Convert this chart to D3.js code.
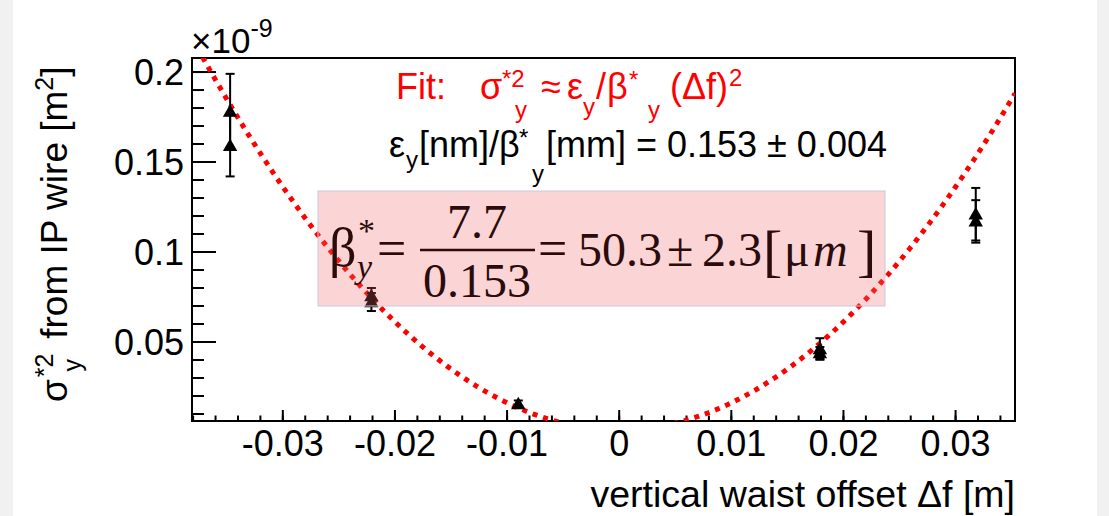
<!DOCTYPE html>
<html>
<head>
<meta charset="utf-8">
<script src="https://cdnjs.cloudflare.com/ajax/libs/d3/7.8.5/d3.min.js"></script>
<style>
  body { margin: 0; background: #f1f1f1; }
  svg { display: block; }
  text { font-family: "Liberation Sans", Arial, Helvetica, sans-serif; }
  text.serif { font-family: "Liberation Serif", "DejaVu Serif", serif; }
</style>
</head>
<body>
<div id="chart"></div>
<script>
// waist scan: offset [m] vs sigma*^2 [1e-9 m^2]
var offsets   = [-0.0347, -0.0347, -0.0221, -0.0221, -0.0090, 0.0179, 0.0179, 0.0318, 0.0318];
var sigma2    = [0.178, 0.159, 0.0755, 0.0722, 0.0155, 0.0461, 0.0439, 0.121, 0.117];
var sigma2Err = [0.021, 0.017, 0.0045, 0.0050, 0.0020, 0.0060, 0.0033, 0.0146, 0.0118];

var xTicks = [-0.03, -0.02, -0.01, 0, 0.01, 0.02, 0.03];
var xTickLabels = ["-0.03", "-0.02", "-0.01", "0", "0.01", "0.02", "0.03"];
var yTicks = [0.05, 0.1, 0.15, 0.2];
var yTickLabels = ["0.05", "0.1", "0.15", "0.2"];

// fit  sigma^2 = k * (df - f0)^2 + c   (k in 1e-9 m^2 / m^2)
var fitK = 150, fitF0 = 0, fitC = 0.0012;

var W = 1109, H = 516;
var frame = {left: 192, right: 1015, top: 58, bottom: 421};

var svg = d3.select("#chart").append("svg")
    .attr("width", W)
    .attr("height", H);

svg.append("rect").attr("x", 13).attr("y", 0).attr("width", 1084).attr("height", H).attr("fill", "#fff");

var x = d3.scaleLinear().domain([-0.0381, 0.0353]).range([frame.left, frame.right]);
var y = d3.scaleLinear().domain([0.0061, 0.2078]).range([frame.bottom, frame.top]);

svg.append("clipPath").attr("id", "plotclip")
  .append("rect")
    .attr("x", frame.left).attr("y", frame.top)
    .attr("width", frame.right - frame.left).attr("height", frame.bottom - frame.top);

// frame
svg.append("rect")
    .attr("x", frame.left).attr("y", frame.top)
    .attr("width", frame.right - frame.left).attr("height", frame.bottom - frame.top)
    .attr("fill", "none").attr("stroke", "#000").attr("stroke-width", 2);

// x ticks (ROOT style, inside, bottom only)
var xMinor = d3.range(-0.038, 0.0352, 0.002);
svg.selectAll("line.xminor").data(xMinor).enter().append("line")
    .attr("class", "xminor")
    .attr("x1", function(d) { return x(d); }).attr("x2", function(d) { return x(d); })
    .attr("y1", frame.bottom).attr("y2", frame.bottom - 5.5)
    .attr("stroke", "#000").attr("stroke-width", 2);
svg.selectAll("line.xmajor").data(xTicks).enter().append("line")
    .attr("class", "xmajor")
    .attr("x1", function(d) { return x(d); }).attr("x2", function(d) { return x(d); })
    .attr("y1", frame.bottom).attr("y2", frame.bottom - 11)
    .attr("stroke", "#000").attr("stroke-width", 2);
svg.selectAll("text.xlab").data(xTicks).enter().append("text")
    .attr("class", "xlab")
    .attr("x", function(d) { return x(d); })
    .attr("y", 456)
    .attr("text-anchor", "middle")
    .attr("font-size", 36)
    .text(function(d, i) { return xTickLabels[i]; });

// y ticks
var yMinor = d3.range(0.01, 0.2001, 0.01);
svg.selectAll("line.yminor").data(yMinor).enter().append("line")
    .attr("class", "yminor")
    .attr("x1", frame.left).attr("x2", frame.left + 12)
    .attr("y1", function(d) { return y(d); }).attr("y2", function(d) { return y(d); })
    .attr("stroke", "#000").attr("stroke-width", 2);
svg.selectAll("line.ymajor").data(yTicks).enter().append("line")
    .attr("class", "ymajor")
    .attr("x1", frame.left).attr("x2", frame.left + 24)
    .attr("y1", function(d) { return y(d); }).attr("y2", function(d) { return y(d); })
    .attr("stroke", "#000").attr("stroke-width", 2);
svg.selectAll("text.ylab").data(yTicks).enter().append("text")
    .attr("class", "ylab")
    .attr("x", 184)
    .attr("y", function(d) { return y(d); })
    .attr("dy", "0.36em")
    .attr("text-anchor", "end")
    .attr("font-size", 36)
    .text(function(d, i) { return yTickLabels[i]; });

// x10^-9
var expo = svg.append("text").attr("x", 191).attr("y", 53).attr("font-size", 35);
expo.append("tspan").text("\u00d710");
expo.append("tspan").attr("font-size", 25).attr("dy", -16).text("-9");

// axis titles
svg.append("text")
    .attr("x", frame.right).attr("y", 507)
    .attr("text-anchor", "end")
    .attr("font-size", 37.5)
    .text("vertical waist offset \u0394f [m]");

var yt = svg.append("text")
    .attr("transform", "translate(67,402) rotate(-90)")
    .attr("font-size", 37);
yt.append("tspan").text("\u03c3");
yt.append("tspan").attr("font-size", 25).attr("dx", 2).attr("dy", -14).text("*2");
yt.append("tspan").attr("font-size", 25).attr("dx", -18).attr("dy", 28).text("y");
yt.append("tspan").attr("dx", 10).attr("dy", -14).text(" from IP wire [m");
yt.append("tspan").attr("font-size", 25).attr("dy", -14).text("2");
yt.append("tspan").attr("dy", 14).text("]");

// fit curve
var fitXs = d3.range(-0.0381, 0.0354, 0.0002);
var line = d3.line()
    .x(function(d) { return x(d); })
    .y(function(d) { return y(fitK * (d - fitF0) * (d - fitF0) + fitC); });
svg.append("path")
    .datum(fitXs)
    .attr("clip-path", "url(#plotclip)")
    .attr("d", line)
    .attr("fill", "none")
    .attr("stroke", "#ff0000")
    .attr("stroke-width", 5)
    .attr("stroke-dasharray", "5 6");

// data points with error bars
var pts = svg.append("g").attr("clip-path", "url(#plotclip)");
offsets.forEach(function(o, i) {
  var px = x(o);
  pts.append("line")
      .attr("x1", px).attr("x2", px)
      .attr("y1", y(sigma2[i] + sigma2Err[i])).attr("y2", y(sigma2[i] - sigma2Err[i]))
      .attr("stroke", "#000").attr("stroke-width", 2);
  [sigma2[i] + sigma2Err[i], sigma2[i] - sigma2Err[i]].forEach(function(v) {
    pts.append("line")
        .attr("x1", px - 4.5).attr("x2", px + 4.5)
        .attr("y1", y(v)).attr("y2", y(v))
        .attr("stroke", "#000").attr("stroke-width", 2);
  });
});
pts.selectAll("path.marker").data(offsets).enter().append("path")
    .attr("class", "marker")
    .attr("d", d3.symbol().type(d3.symbolTriangle).size(90))
    .attr("transform", function(d, i) { return "translate(" + x(d) + "," + (y(sigma2[i]) + 1) + ")"; })
    .attr("fill", "#000");

// fit text
var red = "#ff0000";
var t1 = svg.append("g").attr("fill", red).attr("font-size", 36);
t1.append("text").attr("x", 396).attr("y", 99).text("Fit:");
t1.append("text").attr("x", 480).attr("y", 99).text("\u03c3");
t1.append("text").attr("x", 502).attr("y", 87).attr("font-size", 24).text("*2");
t1.append("text").attr("x", 515).attr("y", 118).attr("font-size", 24).text("y");
t1.append("text").attr("x", 541).attr("y", 99).text("\u2248");
t1.append("text").attr("x", 567).attr("y", 99).text("\u03b5");
t1.append("text").attr("x", 583).attr("y", 115).attr("font-size", 24).text("y");
t1.append("text").attr("x", 596).attr("y", 99).text("/");
t1.append("text").attr("x", 607).attr("y", 99).text("\u03b2");
t1.append("text").attr("x", 629).attr("y", 88).attr("font-size", 24).text("*");
t1.append("text").attr("x", 648).attr("y", 118).attr("font-size", 24).text("y");
t1.append("text").attr("x", 670).attr("y", 99).text("(\u0394f)");
t1.append("text").attr("x", 729).attr("y", 86).attr("font-size", 24).text("2");

var t2 = svg.append("g").attr("fill", "#000").attr("font-size", 36);
t2.append("text").attr("x", 389).attr("y", 157).text("\u03b5");
t2.append("text").attr("x", 406).attr("y", 168).attr("font-size", 24).text("y");
t2.append("text").attr("x", 419).attr("y", 157).text("[nm]/\u03b2");
t2.append("text").attr("x", 519).attr("y", 146).attr("font-size", 24).text("*");
t2.append("text").attr("x", 532).attr("y", 182).attr("font-size", 24).text("y");
t2.append("text").attr("x", 546).attr("y", 157).text("[mm] = 0.153 \u00b1 0.004");

// pasted result box
var box = svg.append("g");
box.append("rect")
    .attr("x", 318).attr("y", 191).attr("width", 567).attr("height", 115)
    .attr("fill", "rgba(240,100,100,0.27)")
    .attr("stroke", "#c9c9dc").attr("stroke-width", 1);
var ink = "#2b0b0b";
var bt = box.append("g").attr("fill", ink).attr("font-size", 48);
function bText(xp, yp, s) {
  return bt.append("text").attr("class", "serif").attr("x", xp).attr("y", yp).text(s);
}
bText(329, 266, "\u03b2").attr("font-size", 54);
bText(358, 242, "*").attr("font-size", 34);
bText(357, 278, "y").attr("font-size", 34).attr("font-style", "italic");
bText(377, 266, "=").attr("font-size", 52);
bText(477, 238, "7.7").attr("text-anchor", "middle");
bt.append("line").attr("x1", 420).attr("x2", 535).attr("y1", 250).attr("y2", 250)
    .attr("stroke", ink).attr("stroke-width", 2.5);
bText(477, 297, "0.153").attr("text-anchor", "middle");
bText(538, 266, "=").attr("font-size", 52);
bText(578, 266, "50.3");
bText(667, 266, "\u00b1");
bText(702, 266, "2.3");
bText(763, 270, "[").attr("font-size", 58);
bText(784, 266, "\u03bc");
bText(813, 266, "m").attr("font-style", "italic");
bText(857, 270, "]").attr("font-size", 58);
</script>
</body>
</html>
